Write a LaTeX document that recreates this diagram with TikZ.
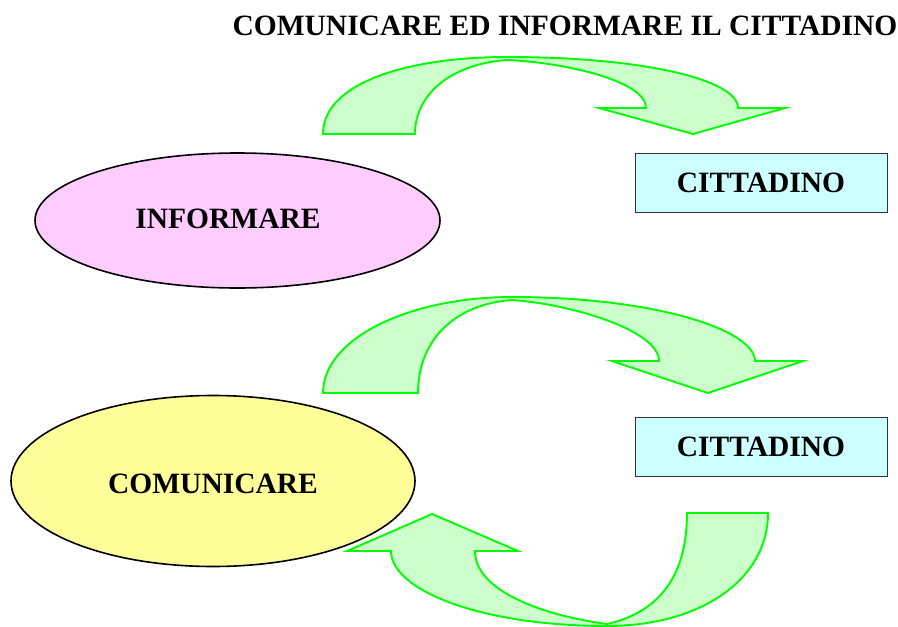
\documentclass[tikz,border=0pt]{standalone}
\usepackage{fontspec}
\setmainfont{Liberation Serif}
\usetikzlibrary{shapes.geometric}
\definecolor{arrfill}{HTML}{CCFFCC}
\definecolor{arrline}{HTML}{00FF00}
\definecolor{pinkf}{HTML}{FFCCFF}
\definecolor{yellf}{HTML}{FFFF99}
\definecolor{cyanf}{HTML}{CCFFFF}
\tikzset{
  bigarrow/.style={fill=arrfill, draw=arrline, line width=1.9pt, line join=miter},
  oval/.style={ellipse, draw=black, line width=1.6pt, inner sep=0pt},
  citbox/.style={rectangle, draw=black!80, line width=0.9pt, fill=cyanf, minimum width=252pt, minimum height=59pt, inner sep=0pt},
  lbl/.style={font=\fontsize{29.5}{32}\selectfont\bfseries}
}
\begin{document}
\begin{tikzpicture}[x=1pt,y=-1pt]
\useasboundingbox (0,0) rectangle (898,627);
% title
\node[lbl, anchor=base] (title) at (565,35) {COMUNICARE ED INFORMARE IL CITTADINO};
% top arrow
\draw[bigarrow] (323,134) .. controls (323,82) and (410,57) .. (507,57)
  .. controls (645,57) and (738,80) .. (738,108) -- (785,108) -- (693,134) -- (599,108) -- (646,108)
  .. controls (646,80) and (560,62) .. (507,60)
  .. controls (450,64) and (415,95) .. (415,134) -- cycle;
% middle arrow
\draw[bigarrow] (323,393) .. controls (323,338) and (410,297) .. (512,297)
  .. controls (655,297) and (755,330) .. (755,361) -- (803,361) -- (708,393) -- (612,361) -- (659,361)
  .. controls (659,330) and (570,304) .. (512,300)
  .. controls (455,304) and (418,340) .. (418,393) -- cycle;
% bottom arrow
\draw[bigarrow] (768,513) .. controls (768,580) and (700,626) .. (607,626)
  .. controls (480,626) and (391,590) .. (391,551) -- (347,551) -- (432,514) -- (518,551) -- (475,551)
  .. controls (475,590) and (540,615) .. (607,624)
  .. controls (660,612) and (687,575) .. (687,513) -- cycle;
% ovals
\node[oval, fill=pinkf, minimum width=405pt, minimum height=135pt] (inf) at (237.5,220.5) {};
\node[lbl] (inft) at (228,219) {INFORMARE};
\node[oval, fill=yellf, minimum width=404pt, minimum height=171pt] (com) at (213,481) {};
\node[lbl] (comt) at (213,484) {COMUNICARE};
% boxes
\node[citbox, lbl] (cit1) at (761,182.5) {CITTADINO};
\node[citbox, lbl] (cit2) at (761,446.5) {CITTADINO};
\end{tikzpicture}
\end{document}
